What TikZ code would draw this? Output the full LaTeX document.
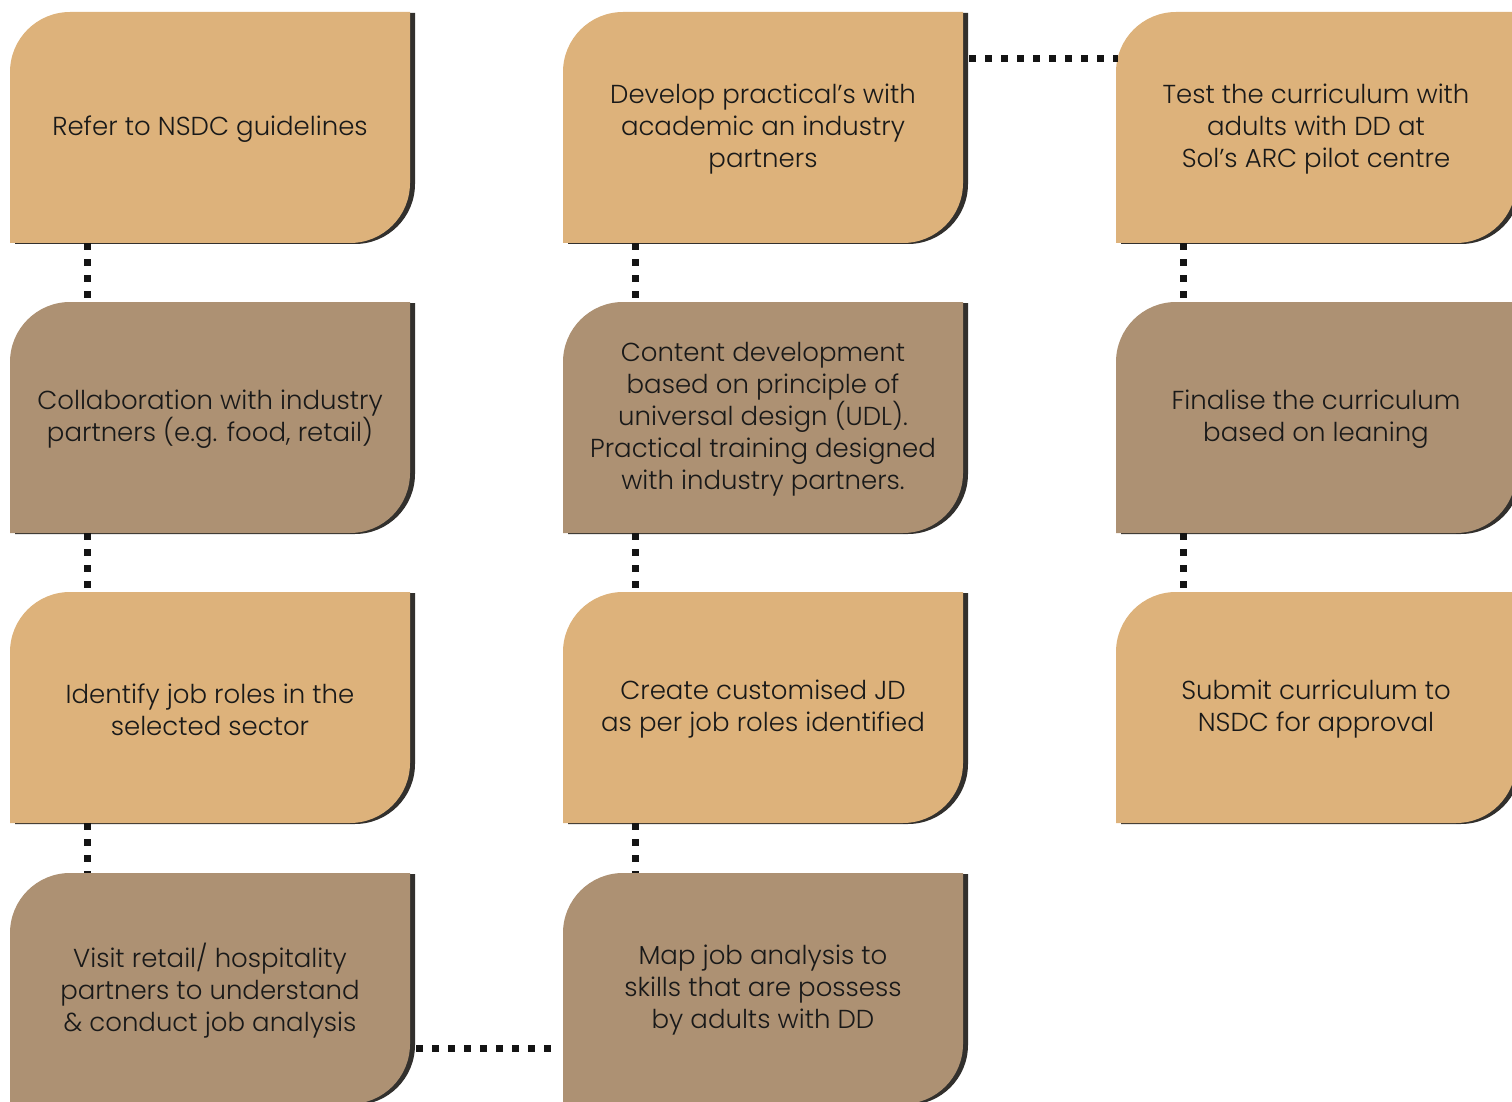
\documentclass[tikz,border=0pt]{standalone}
\usepackage{fontspec}
\setmainfont{Poppins Light}
\usetikzlibrary{calc}

\definecolor{cardtan}{RGB}{221,178,123}
\definecolor{cardbrown}{RGB}{173,145,115}
\definecolor{cardshade}{RGB}{50,48,45}
\definecolor{cardink}{RGB}{25,25,25}

\tikzset{
    cardtext/.style = {minimum width = 200pt, minimum height = 115.5pt, inner sep = 0pt, align = center, text = cardink, font = \fontsize{13}{16}\selectfont},
    link/.style = {line width = 3.5pt, dash pattern = on 3.5pt off 4.5pt, color = black!92}
}

% one step card: name, top left corner, fill, text
\newcommand{\card}[4]{%
    \begin{scope}[shift = {(#2)}]
        \fill[cardshade] (5,-232) -- (5,-61) arc[start angle = 180, end angle = 90, radius = 60] -- (405,-1) -- (405,-172) arc[start angle = 0, end angle = -90, radius = 60] -- cycle;
        \fill[#3] (0,-231) -- (0,-60) arc[start angle = 180, end angle = 90, radius = 60] -- (400,0) -- (400,-171) arc[start angle = 0, end angle = -90, radius = 60] -- cycle;
        \node[cardtext] (#1) at (200,-117.5) {#4};
    \end{scope}}

\begin{document}
\begin{tikzpicture}[x = 0.5pt, y = 0.5pt]
    \useasboundingbox (0,0) rectangle (1512,-1102);
    \clip (0,0) rectangle (1512,-1102);

    \card{refer}{10,-12}{cardtan}{Refer to NSDC guidelines}
    \card{collab}{10,-302}{cardbrown}{Collaboration with industry\\partners (e.g. food, retail)}
    \card{identify}{10,-592}{cardtan}{Identify job roles in the\\selected sector}
    \card{visit}{10,-873}{cardbrown}{Visit retail/ hospitality\\partners to understand\\\& conduct job analysis}

    \card{practical}{563,-12}{cardtan}{Develop practical's with\\academic an industry\\partners}
    \card{content}{563,-302}{cardbrown}{Content development\\based on principle of\\universal design (UDL).\\Practical training designed\\with industry partners.}
    \card{createjd}{563,-592}{cardtan}{Create customised JD\\as per job roles identified}
    \card{mapjob}{563,-873}{cardbrown}{Map job analysis to\\skills that are possess\\by adults with DD}

    \card{test}{1116,-12}{cardtan}{Test the curriculum with\\adults with DD at\\Sol’s ARC pilot centre}
    \card{finalise}{1116,-302}{cardbrown}{Finalise the curriculum\\based on leaning}
    \card{submit}{1116,-592}{cardtan}{Submit curriculum to\\NSDC for approval}

    % dotted links
    \draw[link] ([xshift = 39pt, yshift = 1pt]refer.south west) -- ([xshift = 39pt, yshift = 1pt]collab.north west);
    \draw[link] ([xshift = 39pt, yshift = 1pt]collab.south west) -- ([xshift = 39pt, yshift = 1pt]identify.north west);
    \draw[link] ([xshift = 39pt, yshift = 1pt]identify.south west) -- ([xshift = 39pt, yshift = 1pt]visit.north west);
    \draw[link] ([xshift = 36.5pt, yshift = 1pt]practical.south west) -- ([xshift = 36.5pt, yshift = 1pt]content.north west);
    \draw[link] ([xshift = 36.5pt, yshift = 1pt]content.south west) -- ([xshift = 36.5pt, yshift = 1pt]createjd.north west);
    \draw[link] ([xshift = 36.5pt, yshift = 1pt]createjd.south west) -- ([xshift = 36.5pt, yshift = 1pt]mapjob.north west);
    \draw[link] ([xshift = 34pt, yshift = 1pt]test.south west) -- ([xshift = 34pt, yshift = 1pt]finalise.north west);
    \draw[link] ([xshift = 34pt, yshift = 1pt]finalise.south west) -- ([xshift = 34pt, yshift = 1pt]submit.north west);
    \draw[link] ([xshift = 3pt, yshift = -87pt]visit.north east) -- ([xshift = -2pt, yshift = -87pt]mapjob.north west);
    \draw[link] ([xshift = 3pt, yshift = -22.5pt]practical.north east) -- ([xshift = 1pt, yshift = -22.5pt]test.north west);
\end{tikzpicture}
\end{document}
